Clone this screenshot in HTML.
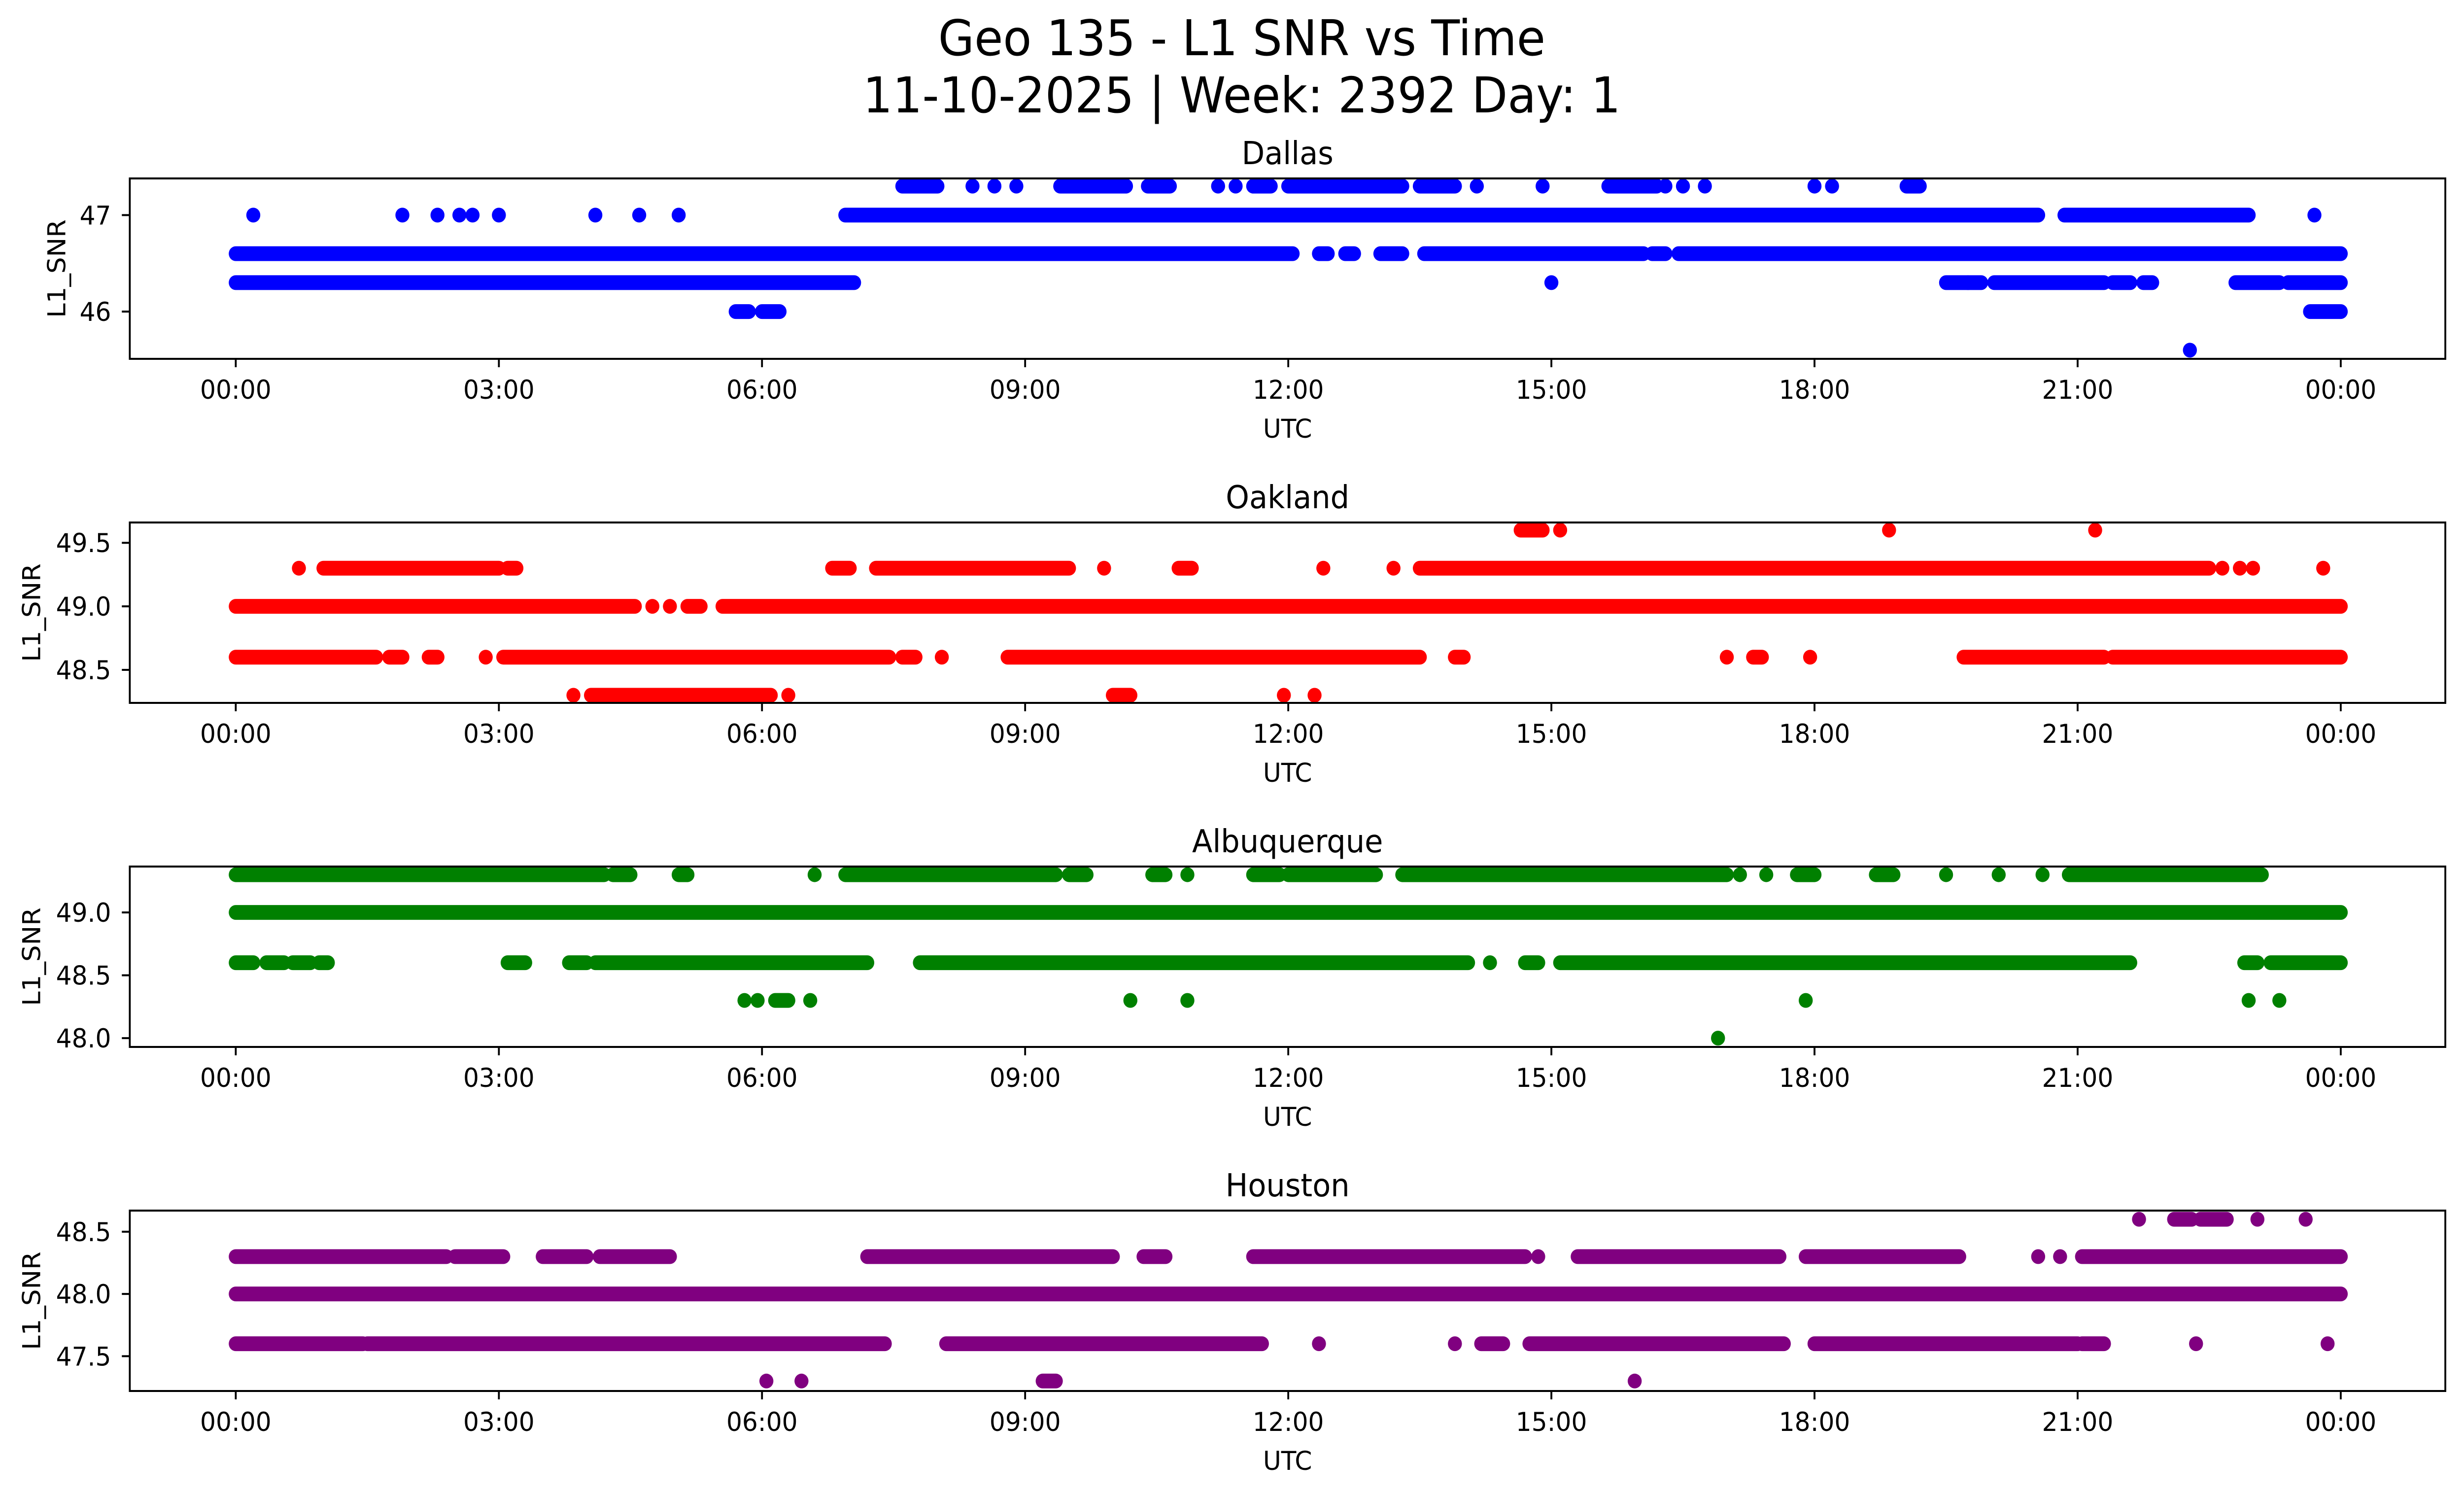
<!DOCTYPE html>
<html><head><meta charset="utf-8"><style>
html,body{margin:0;padding:0;background:#fff;overflow:hidden;width:100%;height:100%;}
svg{position:fixed;left:0;top:0;width:100vw;height:100vh;display:block;font-family:"DejaVu Sans","Liberation Sans",sans-serif;}
</style></head><body>
<svg id="fig" viewBox="0 0 5278 3033" preserveAspectRatio="none" xmlns="http://www.w3.org/2000/svg">
<rect width="5278" height="3033" fill="#fff"/>
<text x="2660" y="112" font-size="100" text-anchor="middle">Geo 135 - L1 SNR vs Time</text>
<text x="2660" y="228" font-size="100" text-anchor="middle">11-10-2025 | Week: 2392 Day: 1</text>
</svg>
<script>
// ---- data (hours UTC, SNR) ----
const xTickHours = [0,3,6,9,12,15,18,21,24];
const xTickLabels = ["00:00","03:00","06:00","09:00","12:00","15:00","18:00","21:00","00:00"];

const stationNames = ["Dallas","Oakland","Albuquerque","Houston"];
const stationColors = ["#0000ff","#ff0000","#008000","#800080"];
const yDomains = [[45.51,47.38],[48.24,49.66],[47.93,49.365],[47.22,48.67]];
const yTickValues = [[46,47],[48.5,49.0,49.5],[48.0,48.5,49.0],[47.5,48.0,48.5]];
const yTickLabels = [["46","47"],["48.5","49.0","49.5"],["48.0","48.5","49.0"],["47.5","48.0","48.5"]];

// runs: [startHour, endHour, snr]
const dallasRuns = [[0,7.05,46.3],[19.5,19.9,46.3],[20.05,21.3,46.3],[21.4,21.6,46.3],[21.75,21.85,46.3],[22.8,23.3,46.3],[23.4,24,46.3],
 [0,12.05,46.6],[12.35,12.45,46.6],[12.65,12.75,46.6],[13.05,13.3,46.6],[13.55,16.05,46.6],[16.15,16.3,46.6],[16.45,24,46.6],
 [6.95,20.55,47.0],[20.85,22.95,47.0],
 [7.6,8.0,47.3],[9.4,10.15,47.3],[10.4,10.65,47.3],[11.6,11.8,47.3],[12.0,13.3,47.3],[13.5,13.9,47.3],[15.65,16.2,47.3],[19.05,19.2,47.3],
 [5.7,5.85,46.0],[6.0,6.2,46.0],[23.65,24,46.0]];
const dallasPoints = [[0.2,47.0],[1.9,47.0],[2.3,47.0],[2.55,47.0],[2.7,47.0],[3.0,47.0],[4.1,47.0],[4.6,47.0],[5.05,47.0],[23.7,47.0],
 [8.4,47.3],[8.65,47.3],[8.9,47.3],[11.2,47.3],[11.4,47.3],[14.15,47.3],[14.9,47.3],[16.3,47.3],[16.5,47.3],[16.75,47.3],[18.0,47.3],[18.2,47.3],
 [15.0,46.3],[19.75,46.3],[22.28,45.6]];

const oaklandRuns = [[0,4.55,49.0],[5.15,5.3,49.0],[5.55,24,49.0],
 [0,1.6,48.6],[1.75,1.9,48.6],[2.2,2.3,48.6],[3.05,7.45,48.6],[7.6,7.75,48.6],[8.8,13.5,48.6],[13.9,14.0,48.6],[17.3,17.4,48.6],[19.7,21.3,48.6],[21.4,24,48.6],
 [1.0,3.0,49.3],[3.1,3.2,49.3],[6.8,7.0,49.3],[7.3,9.5,49.3],[10.75,10.9,49.3],[13.5,22.5,49.3],
 [4.05,6.1,48.3],[10.0,10.2,48.3],[14.65,14.9,49.6]];
const oaklandPoints = [[4.75,49.0],[4.95,49.0],[2.85,48.6],[8.05,48.6],[17.0,48.6],[17.95,48.6],
 [0.72,49.3],[9.9,49.3],[12.4,49.3],[13.2,49.3],[22.65,49.3],[22.85,49.3],[23.0,49.3],[23.8,49.3],
 [3.85,48.3],[6.3,48.3],[11.95,48.3],[12.3,48.3],[15.1,49.6],[18.85,49.6],[21.2,49.6]];

const albuqRuns = [[0,24,49.0],
 [0,4.2,49.3],[4.3,4.5,49.3],[5.05,5.15,49.3],[6.95,9.35,49.3],[9.5,9.7,49.3],[10.45,10.6,49.3],[11.6,11.9,49.3],[12.0,13.0,49.3],[13.3,17.0,49.3],[17.8,18.0,49.3],[18.7,18.9,49.3],[20.9,23.1,49.3],
 [0,0.2,48.6],[0.35,0.55,48.6],[0.65,0.85,48.6],[0.95,1.05,48.6],[3.1,3.3,48.6],[3.8,4.0,48.6],[4.1,7.2,48.6],[7.8,14.05,48.6],[14.7,14.85,48.6],[15.1,21.6,48.6],[22.9,23.05,48.6],[23.2,24,48.6],
 [6.15,6.3,48.3]];
const albuqPoints = [[6.6,49.3],[10.85,49.3],[17.15,49.3],[17.45,49.3],[19.5,49.3],[20.1,49.3],[20.6,49.3],[14.3,48.6],
 [5.8,48.3],[5.95,48.3],[6.55,48.3],[10.2,48.3],[10.85,48.3],[17.9,48.3],[22.95,48.3],[23.3,48.3],[16.9,48.0]];

const houstonRuns = [[0,24,48.0],
 [0,2.4,48.3],[2.5,3.05,48.3],[3.5,4.0,48.3],[4.15,4.95,48.3],[7.2,10.0,48.3],[10.35,10.6,48.3],[11.6,14.7,48.3],[15.3,17.6,48.3],[17.9,19.65,48.3],[21.05,24,48.3],
 [0,1.45,47.6],[1.5,7.4,47.6],[8.1,11.7,47.6],[14.2,14.45,47.6],[14.75,17.65,47.6],[18.0,21.0,47.6],[21.05,21.3,47.6],
 [9.2,9.35,47.3],[22.1,22.3,48.6],[22.4,22.7,48.6]];
const houstonPoints = [[14.85,48.3],[20.55,48.3],[20.8,48.3],[12.35,47.6],[13.9,47.6],[22.35,47.6],[23.85,47.6],
 [6.05,47.3],[6.45,47.3],[15.95,47.3],[21.7,48.6],[23.05,48.6],[23.6,48.6]];

const allRuns = [dallasRuns, oaklandRuns, albuqRuns, houstonRuns];
const allPoints = [dallasPoints, oaklandPoints, albuqPoints, houstonPoints];

// ---- layout ----
const NS = "http://www.w3.org/2000/svg";
const svg = document.getElementById('fig');
const X0 = 278, X1 = 5238;
const panelTops = [362, 1060, 1758, 2456];
const panelH = 366;
const xPix = h => 505 + h * (5014 - 505) / 24;
const ylabelX = [140, 86, 86, 86];
const R = 15;

function mk(tag, attrs, parent) {
  const e = document.createElementNS(NS, tag);
  for (const k in attrs) e.setAttribute(k, attrs[k]);
  (parent || svg).appendChild(e);
  return e;
}

for (let p = 0; p < 4; p++) {
  const top = panelTops[p], bot = top + panelH;
  const [d0, d1] = yDomains[p];
  const yPix = v => bot - (v - d0) / (d1 - d0) * panelH;
  const g = mk('g', {});
  
  

  const t = mk('text', {x: (X0 + X1) / 2, y: top - 29, 'font-size': 64, 'text-anchor': 'middle'}, g);
  t.textContent = stationNames[p];
  
  

  const mg = mk('g', {fill: stationColors[p], stroke: stationColors[p]}, g);
  
  
  for (const [a, b, v] of allRuns[p]) {
    const l = mk('line', {x1: xPix(a), x2: xPix(b), y1: yPix(v), y2: yPix(v), 'stroke-width': 2 * R, 'stroke-linecap': 'round'}, mg);
    
    
  }
  for (const [h, v] of allPoints[p]) {
    const c = mk('circle', {cx: xPix(h), cy: yPix(v), r: R, stroke: 'none'}, mg);
    
    
  }

  const fr = mk('rect', {x: X0, y: top, width: X1 - X0, height: panelH, fill: 'none', stroke: '#000', 'stroke-width': 4}, g);
  
  

  xTickHours.forEach((h, i) => {
    const x = xPix(h);
    mk('line', {x1: x, x2: x, y1: bot, y2: bot + 17, stroke: '#000', 'stroke-width': 4}, g);
    const tl = mk('text', {x: x, y: bot + 81, 'font-size': 53, 'text-anchor': 'middle'}, g);
    tl.textContent = xTickLabels[i];
    
    
  });
  yTickValues[p].forEach((v, i) => {
    const y = yPix(v);
    mk('line', {x1: X0 - 17, x2: X0, y1: y, y2: y, stroke: '#000', 'stroke-width': 4}, g);
    const tl = mk('text', {x: X0 - 40, y: y + 19, 'font-size': 53, 'text-anchor': 'end'}, g);
    tl.textContent = yTickLabels[p][i];
    
    
  });
  const xl = mk('text', {x: (X0 + X1) / 2, y: bot + 160, 'font-size': 53, 'text-anchor': 'middle'}, g);
  xl.textContent = 'UTC';
  
  
  const cy = top + panelH / 2;
  const yl = mk('text', {x: ylabelX[p], y: cy, 'font-size': 53, 'text-anchor': 'middle', transform: `rotate(-90 ${ylabelX[p]} ${cy})`}, g);
  yl.textContent = 'L1_SNR';
  
  
}
</script>
</body></html>
